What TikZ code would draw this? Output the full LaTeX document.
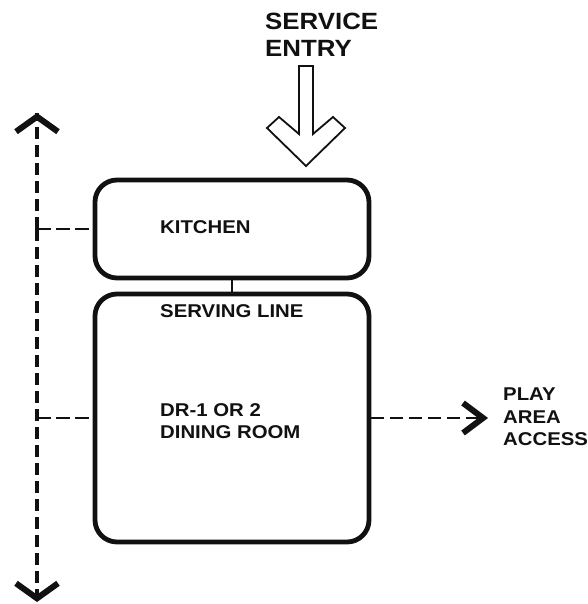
\documentclass[tikz,border=0pt]{standalone}
\usepackage{fontspec}
\usepackage{xcolor}
\usepackage{tikz}
\usetikzlibrary{positioning,arrows.meta,calc}
\newfontfamily\planfont[FakeStretch=1.1]{Liberation Sans}
\definecolor{ink}{HTML}{111111}
\tikzset{
    roombox/.style={
        draw=ink, rounded corners=22pt, line width=4.8pt,
        minimum width=274pt, inner sep=0pt
    },
    planlabel/.style={
        text=ink, inner sep=0pt, align=left,
        font=\planfont\bfseries\fontsize{18.5}{22.5}\selectfont
    },
    entrylabel/.style={
        text=ink, inner sep=0pt, align=left,
        font=\planfont\bfseries\fontsize{23.5}{27}\selectfont
    },
    axisline/.style={draw=ink, line width=3.4pt, dash pattern=on 12pt off 6pt},
    tieline/.style={draw=ink, line width=2.6pt, dash pattern=on 14pt off 5pt},
    barb/.style={-{Straight Barb[length=15pt, width=42pt, line width=6pt]}},
    arrow/.style={-{Straight Barb[length=20pt, width=30pt, line width=6pt]}, draw=ink, line width=2.6pt, dash pattern=on 13pt off 6pt},
}

\begin{document}
\begin{tikzpicture}[x=1pt, y=-1pt]
    \useasboundingbox (0,0) rectangle (587,604);
    % rooms
    \node[roombox, minimum height=98pt] (kitchen) at (232,229) {};
    \node[roombox, minimum height=248pt] (dining) at (232,418) {};
    \draw[ink, line width=2pt] (kitchen.south) -- (dining.north);
    \node[planlabel, anchor=base west] (kitlbl) at (160,233) {KITCHEN};
    \node[planlabel, anchor=base west] (servlbl) at (160,317) {SERVING LINE};
    \node[planlabel, anchor=north west] (drlbl) at (160,403) {DR-1 OR 2\\DINING ROOM};
    % service entry
    \node[entrylabel, anchor=north west] (entry) at (265,13) {SERVICE\\ENTRY};
    \draw[ink, line width=1.8pt, line join=miter]
        (299,66) -- (313,66) -- (313,134) -- (333,117) -- (345,128) -- (306,166)
        -- (267,128) -- (279,117) -- (299,134) -- cycle;
    % circulation
    \coordinate (axtop) at (37,113);
    \coordinate (axbot) at (37,602);
    \draw[axisline] (axtop |- kitchen.west) -- (axtop);
    \draw[axisline] (axtop |- kitchen.west) -- (axbot);
    \draw[ink, barb, line width=3pt] ($(axtop)+(0,1)$) -- (axtop);
    \draw[ink, barb, line width=3pt] ($(axbot)+(0,-1)$) -- (axbot);
    \draw[tieline] (axtop |- kitchen.west) -- (kitchen.west);
    \draw[tieline] (axtop |- dining.west) -- (dining.west);
    \node[planlabel, anchor=north west] (play) at (503,388) {PLAY\\AREA\\ACCESS};
    \coordinate (playend) at (488,418);
    \draw[arrow] (dining.east) -- (playend);
\end{tikzpicture}
\end{document}
